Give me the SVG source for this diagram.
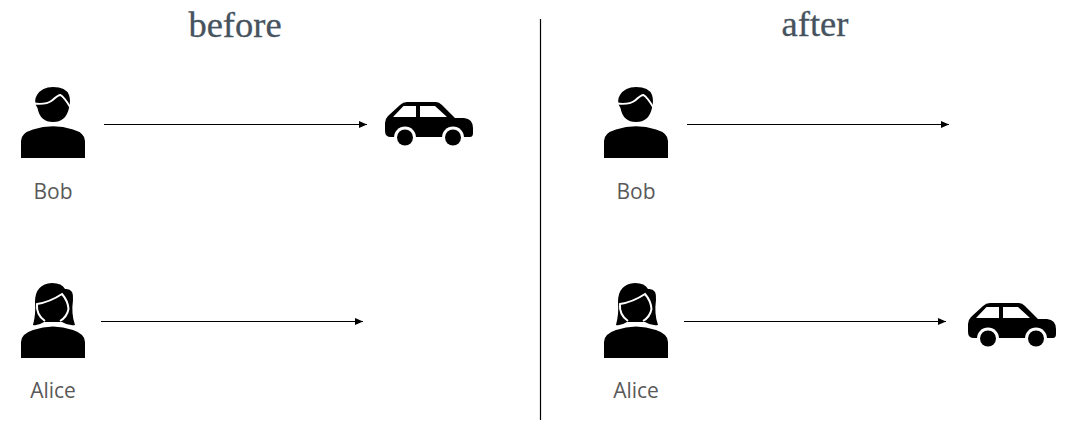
<svg xmlns="http://www.w3.org/2000/svg" xmlns:xlink="http://www.w3.org/1999/xlink" width="1070" height="431" viewBox="0 0 1070 431">
<style>
.title{font-family:"Liberation Serif","Noto Serif",serif;font-size:36.500px;fill:#46535e;stroke:#46535e;stroke-width:.3;text-anchor:middle}
.label{font-family:"Open Sans","Noto Sans",sans-serif;font-size:21px;fill:#595959;text-anchor:middle}
.conn{stroke:#000;stroke-width:1.2;fill:none;marker-end:url(#arrow)}
.divider{stroke:#000;stroke-width:1.2;fill:none}
.cut{stroke:#fff;fill:none;stroke-width:2}
</style>
<defs>
<marker id="arrow" markerUnits="userSpaceOnUse" markerWidth="8" markerHeight="7" refX="8" refY="3.500" orient="auto"><path d="M0 0L8 3.500L0 7Z" fill="#000"/></marker>
<symbol id="bob" overflow="visible">
<path d="M21 158V141Q21 133 33 129.500Q53 123 73 129.500Q85 133 85 141V158Z"/>
<path d="M37.500 108Q33 101 37 95Q42 87 53 87Q66 87 69 95Q71 101 69 108Q66 122 53 122Q40 122 37.500 108Z"/>
<path class="cut" d="M34 103.500Q46 105 52 100.500Q58 95 60.500 95Q64 97 70.500 107.500"/>
</symbol>
<symbol id="alice" overflow="visible">
<path d="M21 358V342Q21 334 33 330Q53 323 73 330Q85 334 85 342V358Z"/>
<path d="M33 325Q36 314 35 302Q35 284 52 283Q62 283 65 289Q74 288 73 300Q71 314 75 325Q68 326 62 322H44Q38 326 33 325Z"/>
<path class="cut" d="M45 321Q36 315 37 304Q50 302 62 294Q68 301 68.500 309Q67 317 60 321"/>
</symbol>
<symbol id="car" overflow="visible">
<path d="M385 123Q385 119 388 116L400 105Q403 102 407 102H436Q439 102 442 105L455 118H464Q473 119 473 128V133Q473 137 470 137H391Q385 137 385 131Z"/>
<path fill="#fff" d="M393 117L403.500 106H416V117ZM420 106H435L447 117H420Z"/>
<circle cx="405" cy="137.500" r="11" fill="#fff"/><circle cx="453" cy="137.500" r="11" fill="#fff"/>
<circle cx="405" cy="137.500" r="8"/><circle cx="453" cy="137.500" r="8"/>
</symbol>
</defs>
<text class="title" x="235" y="37">before</text>
<text class="title" x="815" y="36">after</text>
<g id="connectors">
<line class="divider" x1="540.500" y1="19" x2="540.500" y2="420"/>
<line class="conn" x1="104" y1="124.500" x2="367" y2="124.500"/>
<line class="conn" x1="101" y1="321.500" x2="363" y2="321.500"/>
<line class="conn" x1="687" y1="124.500" x2="949" y2="124.500"/>
<line class="conn" x1="684" y1="321.500" x2="946" y2="321.500"/>
</g>
<g id="bob-before"><use href="#bob"/><text class="label" x="53" y="199">Bob</text></g>
<g id="alice-before"><use href="#alice"/><text class="label" x="53" y="398">Alice</text></g>
<g id="car-before"><use href="#car"/></g>
<g id="bob-after"><use href="#bob" x="583"/><text class="label" x="636" y="199">Bob</text></g>
<g id="alice-after"><use href="#alice" x="583"/><text class="label" x="636" y="398">Alice</text></g>
<g id="car-after"><use href="#car" x="583" y="201"/></g>
</svg>
